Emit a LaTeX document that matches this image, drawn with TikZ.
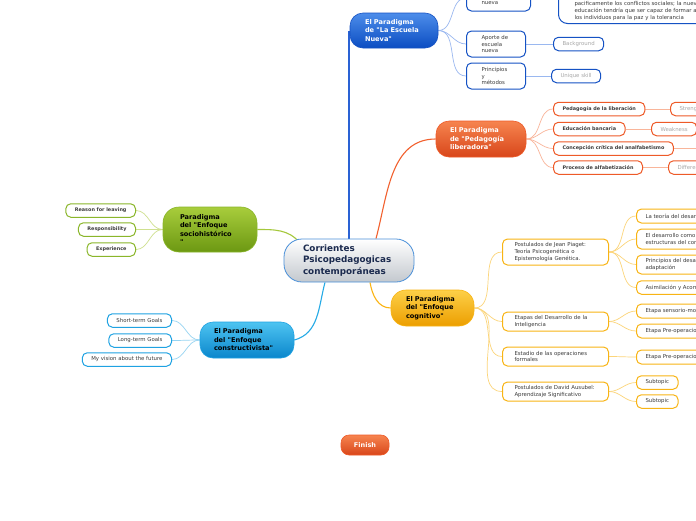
\documentclass[tikz,border=0pt]{standalone}
\usepackage{fontspec}
\setmainfont{DejaVu Sans}[Ligatures=TeXOff]
\pgfdeclarelayer{background}
\pgfsetlayers{background,main}

\definecolor{rootedge}{HTML}{4A90D9}
\definecolor{rootbot}{HTML}{C3C8CE}
\definecolor{roottext}{HTML}{1B2A4E}
\definecolor{bluetop}{HTML}{4D8DEA}
\definecolor{bluebot}{HTML}{0B4DC2}
\definecolor{blueedge}{HTML}{1552C4}
\definecolor{blueline}{HTML}{2A62D4}
\definecolor{bluetwig}{HTML}{9AB8F0}
\definecolor{redtop}{HTML}{F6844F}
\definecolor{redbot}{HTML}{D8461A}
\definecolor{rededge}{HTML}{EE5A28}
\definecolor{redline}{HTML}{F2612F}
\definecolor{redtwig}{HTML}{F9B59A}
\definecolor{greentop}{HTML}{A8CD3C}
\definecolor{greenbot}{HTML}{6C9812}
\definecolor{greenedge}{HTML}{8AB62A}
\definecolor{greenline}{HTML}{A5C83C}
\definecolor{greentwig}{HTML}{CFE08F}
\definecolor{cyantop}{HTML}{4EC4F1}
\definecolor{cyanbot}{HTML}{0A86CC}
\definecolor{cyanedge}{HTML}{1FA2E2}
\definecolor{cyanline}{HTML}{25AAE6}
\definecolor{cyantwig}{HTML}{97D4F2}
\definecolor{yellowtop}{HTML}{FDD048}
\definecolor{yellowbot}{HTML}{EC9E00}
\definecolor{yellowedge}{HTML}{F8B414}
\definecolor{yellowline}{HTML}{FBB414}
\definecolor{yellowtwig}{HTML}{FCD57A}
\definecolor{leaftext}{HTML}{3C3C3C}
\definecolor{extragray}{HTML}{A8A8A8}

\newcommand{\rootfont}{\fontsize{8.8}{11.5}\selectfont\bfseries}
\newcommand{\topicfont}{\fontsize{6.6}{8.5}\selectfont\bfseries}
\newcommand{\leaffont}{\fontsize{5.4}{6.6}\selectfont}
\newcommand{\leafbold}{\fontsize{4.9}{6}\selectfont\bfseries}

\tikzset{
  topic/.style={rounded corners=13pt, line width=0.6pt, align=left, font=\topicfont, inner ysep=0pt},
  leaf/.style={draw=#1, line width=1pt, rounded corners=5pt, fill=white, text=leaftext, font=\leaffont, inner xsep=9pt, inner ysep=0pt, minimum height=13.5pt, align=left},
  extra/.style={leaf=#1, text=extragray},
  branch/.style={draw=#1, line width=1.1pt},
  twig/.style={draw=#1, line width=0.7pt},
}

\begin{document}
\begin{tikzpicture}[x=1pt, y=-1pt]
    \useasboundingbox (0,0) rectangle (696,520);

    % Central topic
    \node[topic, rounded corners=18pt, top color=white, bottom color=rootbot, draw=rootedge, line width=0.8pt, text=roottext, font=\rootfont, text width=92pt, inner xsep=19pt, minimum height=43pt] (root) at (349,260.5) {Corrientes\\Psicopedagogicas\\contemporáneas};

    % Escuela nueva
    \node[topic, top color=bluetop, bottom color=bluebot, draw=blueedge, text=white, text width=58pt, inner xsep=15pt, minimum height=35pt] (escuela) at (394,30.5) {El Paradigma\\de "La Escuela\\Nueva"};
    \foreach \n/\y/\w/\t in {top/-2/34/{~\\~\\nueva}, aporte/44/29/{Aporte de\\escuela\\nueva}, principios/76/29/{Principios\\y\\métodos}} {
      \node[leaf=blueedge, anchor=west, text width=\w pt, inner xsep=15pt, minimum height=26pt] (esc-\n) at (466,\y) {\t};
    }
    \node[extra=blueedge, anchor=west] (bground) at (553,44) {Background};
    \node[extra=blueedge, anchor=west] (skill) at (551,76) {Unique skill};
    \node[leaf=blueedge, anchor=south west, text width=170pt, inner xsep=16pt, inner ysep=3pt, rounded corners=9pt, font=\fontsize{5.4}{7}\selectfont] (paz) at (558,24) {~\\~\\~\\pacificamente los conflictos sociales; la nueva\\educación tendría que ser capaz de formar a\\los individuos para la paz y la tolerancia};

    % Pedagogia liberadora
    \node[topic, top color=redtop, bottom color=redbot, draw=rededge, text=white, text width=62pt, inner xsep=14pt, minimum height=36pt] (liberadora) at (481,139) {El Paradigma\\de "Pedagogía\\liberadora"};
    \foreach \n/\y/\t in {lib/109/Pedagogía de la liberación, banc/129/Educación bancaria, crit/148.5/Concepción crítica del analfabetismo, alfa/167.5/Proceso de alfabetización} {
      \node[leaf=rededge, anchor=west, font=\leafbold] (ped-\n) at (553,\y) {\t};
    }
    \node[extra=rededge, anchor=west] (strengths) at (670,109) {Strengths};
    \node[extra=rededge, anchor=west] (weakness) at (651,129) {Weakness};
    \node[extra=rededge, anchor=west] (differences) at (668,167.5) {Differences};
    \coordinate (crit-end) at (700,148.5);

    % Enfoque sociohistorico
    \node[topic, rounded corners=16pt, top color=greentop, bottom color=greenbot, draw=greenedge, text=black, text width=60pt, inner xsep=17pt, minimum height=45pt] (socio) at (210,229.5) {Paradigma\\del "Enfoque\\sociohistórico\\"};
    \foreach \n/\y/\t in {reason/210.5/Reason for leaving, resp/229.5/Responsibility, exp/249.5/Experience} {
      \node[leaf=greenedge, anchor=east, font=\leafbold] (soc-\n) at (136,\y) {\t};
    }

    % Enfoque constructivista
    \node[topic, top color=cyantop, bottom color=cyanbot, draw=cyanedge, text=black, text width=66pt, inner xsep=14pt, minimum height=36pt] (constructivista) at (247,340) {El Paradigma\\del "Enfoque\\constructivista"};
    \foreach \n/\y/\t in {short/320.5/Short-term Goals, long/340.5/Long-term Goals, vision/359.5/My vision about the future} {
      \node[leaf=cyanedge, anchor=east] (con-\n) at (172,\y) {\t};
    }

    % Enfoque cognitivo
    \node[topic, rounded corners=15pt, top color=yellowtop, bottom color=yellowbot, draw=yellowedge, text=black, text width=53pt, inner xsep=15pt, minimum height=36pt] (cognitivo) at (432.5,308) {El Paradigma\\del "Enfoque\\cognitivo"};
    \foreach \n/\y/\h/\t in {piaget/252/26/{Postulados de Jean Piaget:\\Teoría Psicogenética o\\Epistemología Genética.}, etapas/321.5/19/{Etapas del Desarrollo de la\\Inteligencia}, estadio/356.5/19/{Estadio de las operaciones\\formales}, ausubel/391.5/19/{Postulados de David Ausubel:\\Aprendizaje Significativo}} {
      \node[leaf=yellowedge, anchor=west, text width=82pt, inner xsep=12pt, minimum height=\h pt] (cog-\n) at (502,\y) {\t};
    }
    \foreach \n/\y/\h/\t in {teoria/216/14/{La teoría del desarrollo}, estruct/239/20/{El desarrollo como\\estructuras del conocimiento}, princ/264.5/19/{Principios del desarrollo\\adaptación}, asim/287.5/13.5/{Asimilación y Acomodación}, sens/311/14/{Etapa sensorio-motora}, preop/331/14/{Etapa Pre-operacional}, formal/357/14/{Etapa Pre-operacional}, subA/382.5/13.5/Subtopic, subB/401.5/13.5/Subtopic} {
      \node[leaf=yellowedge, anchor=west, minimum height=\h pt] (\n) at (636,\y) {\t};
    }

    % Finish
    \node[topic, rounded corners=8pt, top color=redtop, bottom color=redbot, draw=rededge, text=white, align=center, minimum width=48pt, minimum height=20pt, font=\fontsize{6.5}{8}\selectfont\bfseries] (finish) at (365,445) {Finish};

    \begin{pgfonlayer}{background}
      \fill[white] (0,0) rectangle (696,520);

      % Draw main branches
      \draw[branch=blueline] (root.center) -- (root.center |- escuela.west);
      \draw[branch=redline] ([xshift=27pt]root.north) to[out=75, in=180] (liberadora.west);
      \draw[branch=greenline] (socio.east) to[out=0, in=130] ([xshift=16pt, yshift=-4pt]root.north west);
      \draw[branch=cyanline] ([xshift=-24pt]root.south) to[out=-105, in=15] (constructivista.east);
      \draw[branch=yellowline] ([xshift=21pt]root.south) to[out=-80, in=180] (cognitivo.west);

      % Draw sub-branches
      \foreach \n in {top,aporte,principios}
        \draw[twig=bluetwig] (escuela.east) to[out=0, in=180] (esc-\n.west);
      \draw[twig=bluetwig] (esc-aporte.east) -- (bground.west);
      \draw[twig=bluetwig] (esc-principios.east) -- (skill.west);

      \foreach \n in {lib,banc,crit,alfa}
        \draw[twig=redtwig] (liberadora.east) to[out=0, in=180] (ped-\n.west);
      \draw[twig=redtwig] (ped-lib.east) -- (strengths.west);
      \draw[twig=redtwig] (ped-banc.east) -- (weakness.west);
      \draw[twig=redtwig] (ped-crit.east) -- (crit-end);
      \draw[twig=redtwig] (ped-alfa.east) -- (differences.west);

      \foreach \n in {reason,resp,exp}
        \draw[twig=greentwig] (socio.west) to[out=180, in=0] (soc-\n.east);
      \foreach \n in {short,long,vision}
        \draw[twig=cyantwig] (constructivista.west) to[out=180, in=0] (con-\n.east);

      \foreach \n in {piaget,etapas,estadio,ausubel}
        \draw[twig=yellowtwig] (cognitivo.east) to[out=0, in=180] (cog-\n.west);
      \foreach \p/\c in {piaget/teoria, piaget/estruct, piaget/princ, piaget/asim, etapas/sens, etapas/preop, estadio/formal, ausubel/subA, ausubel/subB}
        \draw[twig=yellowtwig] (cog-\p.east) to[out=0, in=180] (\c.west);
    \end{pgfonlayer}
\end{tikzpicture}
\end{document}
